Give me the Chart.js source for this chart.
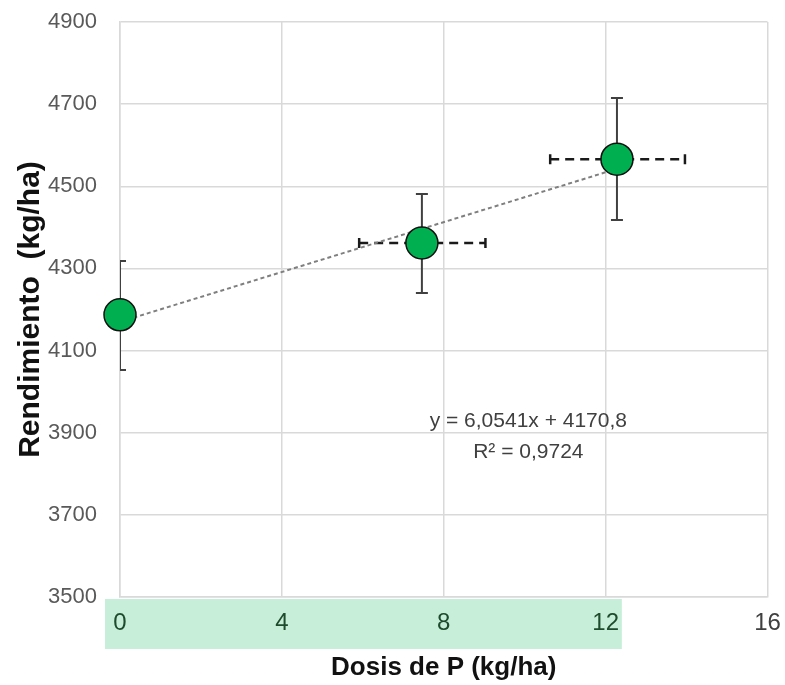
<!DOCTYPE html>
<html>
<head>
<meta charset="utf-8">
<script src="https://cdn.jsdelivr.net/npm/chart.js@4"></script>
<style>
  html, body { margin: 0; padding: 0; background: #ffffff; }
  #wrap { width: 785px; height: 685px; }
</style>
</head>
<body>
<div id="wrap"><canvas id="chart" width="785" height="685"></canvas></div>
<script>
// Values
const doses = [0, 7.46, 12.28];
const yields = [4187, 4362, 4566];
const yieldLow = [4053, 4240, 4418];
const yieldHigh = [4318, 4481, 4715];
const doseLow = [null, 5.91, 10.63];
const doseHigh = [null, 9.03, 13.96];
const trendX = [0, 12.26];
const trendY = [4170, 4542];
const xTicks = [0, 4, 8, 12, 16];
const yTicks = [3500, 3700, 3900, 4100, 4300, 4500, 4700, 4900];
const equationLines = ['y = 6,0541x + 4170,8', 'R² = 0,9724'];

const gridColor = '#d9d9d9';

// highlighted band behind the x tick labels, and the error bars
const extrasPlugin = {
    id: 'extras',
    beforeDraw(chart) {
        const { ctx, chartArea, scales } = chart;
        const left = scales.x.getPixelForValue(0) - 15;
        const right = scales.x.getPixelForValue(12.4);
        ctx.save();
        ctx.fillStyle = '#c6eed8';
        ctx.fillRect(left, chartArea.bottom + 2, right - left, 50);
        ctx.restore();
    },
    beforeDatasetsDraw(chart) {
        const { ctx, chartArea, scales } = chart;
        const x = scales.x, y = scales.y;
        ctx.save();
        ctx.beginPath();
        ctx.rect(chartArea.left, chartArea.top, chartArea.right - chartArea.left, chartArea.bottom - chartArea.top);
        ctx.clip();

        // vertical bars
        ctx.strokeStyle = '#404040';
        ctx.lineWidth = 2;
        ctx.setLineDash([]);
        for (let i = 0; i < doses.length; i++) {
            const px = x.getPixelForValue(doses[i]);
            const top = y.getPixelForValue(yieldHigh[i]);
            const bot = y.getPixelForValue(yieldLow[i]);
            ctx.beginPath();
            ctx.moveTo(px, top); ctx.lineTo(px, bot);
            ctx.moveTo(px - 6, top); ctx.lineTo(px + 6, top);
            ctx.moveTo(px - 6, bot); ctx.lineTo(px + 6, bot);
            ctx.stroke();
        }

        // horizontal dashed bars
        ctx.strokeStyle = '#1a1a1a';
        ctx.lineWidth = 2.5;
        for (let i = 0; i < doses.length; i++) {
            if (doseLow[i] == null) continue;
            const py = y.getPixelForValue(yields[i]);
            const l = x.getPixelForValue(doseLow[i]);
            const r = x.getPixelForValue(doseHigh[i]);
            ctx.setLineDash([9, 6]);
            ctx.beginPath();
            ctx.moveTo(l, py); ctx.lineTo(r, py);
            ctx.stroke();
            ctx.setLineDash([]);
            ctx.beginPath();
            ctx.moveTo(l, py - 5); ctx.lineTo(l, py + 5);
            ctx.moveTo(r, py - 5); ctx.lineTo(r, py + 5);
            ctx.stroke();
        }
        ctx.restore();
    },
    afterDatasetsDraw(chart) {
        const { ctx, scales } = chart;
        const cx = scales.x.getPixelForValue(10.09);
        ctx.save();
        ctx.fillStyle = '#404040';
        ctx.font = '21px "Liberation Sans", Arial, sans-serif';
        ctx.textAlign = 'center';
        ctx.textBaseline = 'middle';
        ctx.fillText(equationLines[0], cx, scales.y.getPixelForValue(3929));
        ctx.fillText(equationLines[1], cx, scales.y.getPixelForValue(3853));
        ctx.restore();
    }
};

const ctx = document.getElementById('chart').getContext('2d');
new Chart(ctx, {
    type: 'scatter',
    data: {
        datasets: [
            {
                label: 'Tendencia',
                type: 'line',
                data: trendX.map((v, i) => ({ x: v, y: trendY[i] })),
                borderColor: '#7f7f7f',
                borderWidth: 2,
                borderDash: [4, 3],
                pointRadius: 0,
                fill: false,
                order: 2
            },
            {
                label: 'Rendimiento',
                data: doses.map((v, i) => ({ x: v, y: yields[i] })),
                backgroundColor: '#00b050',
                borderColor: '#111111',
                borderWidth: 1.5,
                pointRadius: 16,
                pointHoverRadius: 16,
                clip: false,
                order: 1
            }
        ]
    },
    options: {
        responsive: false,
        animation: false,
        events: [],
        layout: { padding: { top: 22, right: 15, left: 0, bottom: 0 } },
        plugins: {
            legend: { display: false },
            tooltip: { enabled: false }
        },
        scales: {
            x: {
                type: 'linear',
                min: 0,
                max: 16,
                afterBuildTicks(scale) { scale.ticks = xTicks.map(v => ({ value: v })); },
                afterFit(scale) {
                    scale.height = 88;
                    scale.paddingLeft = 0;
                    scale.paddingRight = 0;
                },
                grid: { color: gridColor, lineWidth: 1.5, drawTicks: false },
                border: { color: gridColor, width: 1.5 },
                ticks: {
                    padding: 12,
                    color: (c) => c.tick.value <= 12 ? '#1f4a2c' : '#404040',
                    callback: (v) => String(v),
                    font: { family: '"Liberation Sans", Arial, sans-serif', size: 24 }
                },
                title: {
                    display: true,
                    text: 'Dosis de P (kg/ha)',
                    color: '#111111',
                    padding: { top: 0, bottom: 2 },
                    font: { family: '"Liberation Sans", Arial, sans-serif', size: 26, weight: 'bold' }
                }
            },
            y: {
                type: 'linear',
                min: 3500,
                max: 4900,
                afterBuildTicks(scale) { scale.ticks = yTicks.map(v => ({ value: v })); },
                afterFit(scale) {
                    scale.width = 120;
                    scale.paddingTop = 0;
                    scale.paddingBottom = 0;
                },
                grid: { color: gridColor, lineWidth: 1.5, drawTicks: false },
                border: { color: gridColor, width: 1.5 },
                ticks: {
                    padding: 23,
                    color: '#595959',
                    callback: (v) => String(v),
                    font: { family: '"Liberation Sans", Arial, sans-serif', size: 22 }
                },
                title: {
                    display: true,
                    text: 'Rendimiento  (kg/ha)',
                    color: '#111111',
                    padding: { top: 13, bottom: 0 },
                    font: { family: '"Liberation Sans", Arial, sans-serif', size: 30, weight: 'bold' }
                }
            }
        }
    },
    plugins: [extrasPlugin]
});
</script>
</body>
</html>
